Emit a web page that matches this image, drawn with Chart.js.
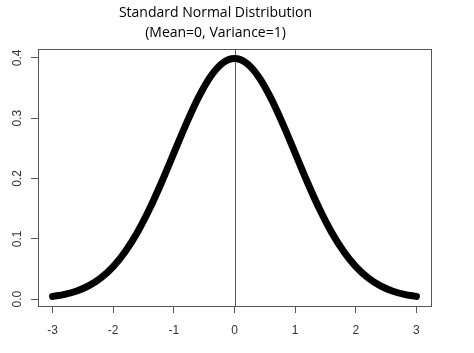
<!DOCTYPE html>
<html>
<head>
<meta charset="utf-8">
<script src="https://cdn.jsdelivr.net/npm/chart.js@4/dist/chart.umd.min.js"></script>
<style>
  body { margin: 0; background: #fff; }
</style>
</head>
<body>
<canvas id="chart" width="474" height="353"></canvas>
<script>
"use strict";

// density curve
const xValues = [-3, -2.8, -2.6, -2.4, -2.2, -2, -1.8, -1.6, -1.4, -1.2, -1, -0.8, -0.6, -0.4, -0.2,
                 0, 0.2, 0.4, 0.6, 0.8, 1, 1.2, 1.4, 1.6, 1.8, 2, 2.2, 2.4, 2.6, 2.8, 3];
const densityValues = [0.0044, 0.0079, 0.0136, 0.0224, 0.0355, 0.0540, 0.0790, 0.1109, 0.1497, 0.1942, 0.2420,
                       0.2897, 0.3332, 0.3683, 0.3910, 0.3989, 0.3910, 0.3683, 0.3332, 0.2897, 0.2420,
                       0.1942, 0.1497, 0.1109, 0.0790, 0.0540, 0.0355, 0.0224, 0.0136, 0.0079, 0.0044];

const xTicks = [-3, -2, -1, 0, 1, 2, 3];
const yTicks = [0, 0.1, 0.2, 0.3, 0.4];
const yTickLabels = ['0.0', '0.1', '0.2', '0.3', '0.4'];
const meanLine = 0;

const titleLines = ['Standard Normal Distribution', '(Mean=0, Variance=1)'];

class NormalPlot {

  #frame() {
    return {
      id: 'frame',
      beforeDatasetsDraw(chart) {
        const { ctx, chartArea: a, scales } = chart;
        const x = Math.round(scales.x.getPixelForValue(meanLine)) + 0.5;
        ctx.save();
        ctx.strokeStyle = '#555';
        ctx.lineWidth = 1;
        ctx.beginPath();
        ctx.moveTo(x, a.top);
        ctx.lineTo(x, a.bottom);
        ctx.stroke();
        ctx.restore();
      },
      afterDraw(chart) {
        const { ctx, chartArea: a, scales } = chart;
        ctx.save();
        ctx.strokeStyle = '#555';
        ctx.lineWidth = 1;
        ctx.strokeRect(Math.round(a.left) + 0.5, Math.round(a.top) + 0.5,
                       Math.round(a.right - a.left), Math.round(a.bottom - a.top));
        // R style rotated y tick labels
        ctx.fillStyle = '#333';
        ctx.font = '12px "Liberation Sans", Arial, sans-serif';
        ctx.textAlign = 'center';
        ctx.textBaseline = 'middle';
        yTicks.forEach((v, i) => {
          const y = scales.y.getPixelForValue(v);
          ctx.save();
          ctx.translate(18, y);
          ctx.rotate(-Math.PI / 2);
          ctx.fillText(yTickLabels[i], 0, 0);
          ctx.restore();
        });
        ctx.restore();
      }
    };
  }

  #options() {
    return {
      responsive: false,
      animation: false,
      layout: { padding: { left: 0, right: 43, top: 0, bottom: 0 } },
      plugins: {
        legend: { display: false },
        tooltip: { enabled: false },
        title: {
          display: true,
          text: titleLines,
          color: '#000',
          font: { family: '"Open Sans", sans-serif', size: 14, weight: 'normal', lineHeight: '20px' },
          padding: { top: 3, bottom: 6 }
        }
      },
      scales: {
        x: {
          type: 'linear',
          min: -3.24,
          max: 3.24,
          afterBuildTicks: axis => { axis.ticks = xTicks.map(v => ({ value: v })); },
          afterFit: axis => { axis.height = 47; },
          grid: { drawOnChartArea: false, drawTicks: true, tickLength: 7, color: '#555' },
          border: { display: true, color: '#555' },
          ticks: {
            padding: 10,
            color: '#333',
            font: { family: '"Liberation Sans", Arial, sans-serif', size: 12 },
            maxRotation: 0
          }
        },
        y: {
          type: 'linear',
          min: -0.0114,
          max: 0.4147,
          afterBuildTicks: axis => { axis.ticks = yTicks.map(v => ({ value: v })); },
          afterFit: axis => { axis.width = 38; },
          grid: { drawOnChartArea: false, drawTicks: true, tickLength: 7, color: '#555' },
          border: { display: true, color: '#555' },
          ticks: { display: false }
        }
      }
    };
  }

  #config() {
    return {
      type: 'line',
      data: {
        datasets: [{
          data: xValues.map((x, i) => ({ x: x, y: densityValues[i] })),
          borderColor: '#000',
          borderWidth: 7,
          borderCapStyle: 'round',
          borderJoinStyle: 'round',
          cubicInterpolationMode: 'monotone',
          pointRadius: 0,
          fill: false
        }]
      },
      options: this.#options(),
      plugins: [this.#frame()]
    };
  }

  render(container) {
    return new Chart(document.getElementById(container), this.#config());
  }
}

new NormalPlot().render('chart');
</script>
</body>
</html>
